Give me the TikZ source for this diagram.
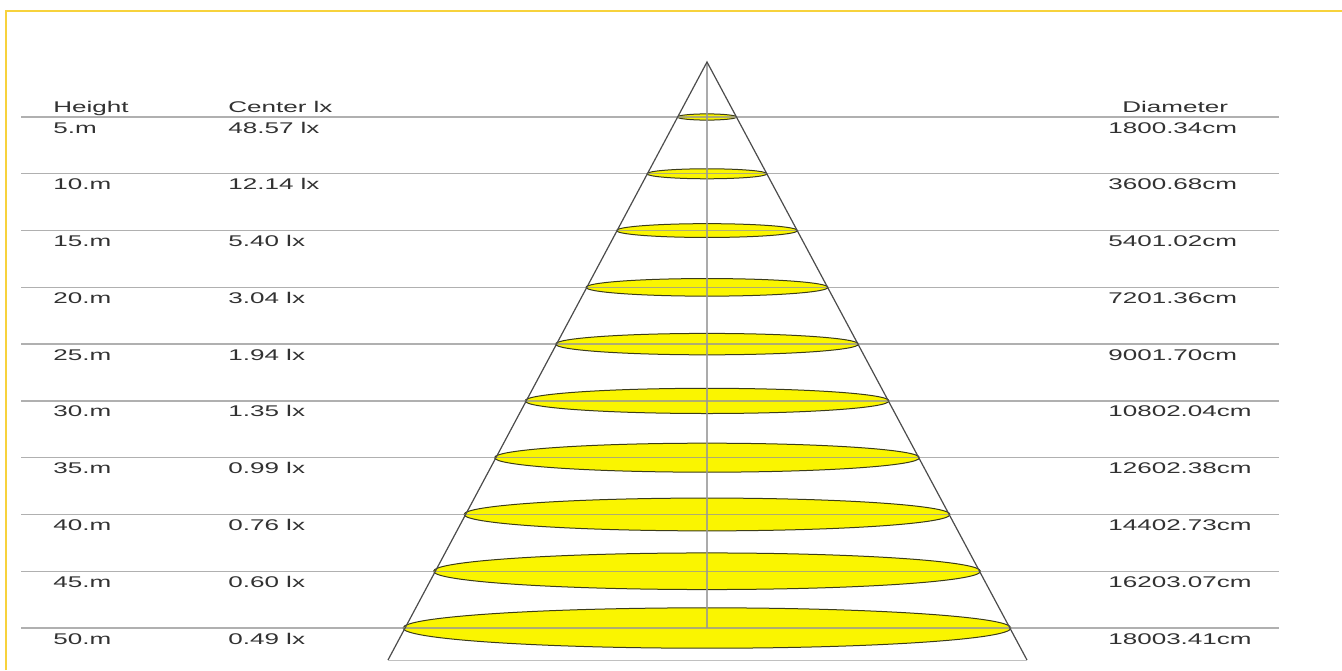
\documentclass[tikz,border=0pt]{standalone}
\usepackage{fontspec}
\setmainfont{Liberation Sans}
\definecolor{framegold}{RGB}{247,210,60}
\definecolor{rulegray}{RGB}{150,150,150}
\definecolor{txt}{RGB}{50,50,50}
\definecolor{lampyellow}{RGB}{250,245,0}
\definecolor{ellline}{RGB}{60,60,25}
\tikzset{
  lbl/.style={anchor=base west, inner sep=0pt, text=txt, font=\fontsize{15.5}{18}\selectfont, xscale=1.68},
  rowline/.style={draw=rulegray, line width=1.3pt, opacity=0.75},
  side/.style={draw=black!70, line width=1.2pt},
  axisline/.style={draw=rulegray, line width=1.3pt, opacity=0.8},
  beam/.style={fill=lampyellow, draw=ellline, line width=1pt},
  frame/.style={draw=framegold, line width=1.3pt}
}
\begin{document}
\begin{tikzpicture}[x=1pt,y=-1pt]
\useasboundingbox (0,0) rectangle (1342,670);
\fill[white] (0,0) rectangle (1342,670);
\draw[frame] (6,670) -- (6,11) -- (1342,11);
% geometry
\coordinate (apex) at (707,62);
\coordinate (bl) at (388,660);
\coordinate (br) at (1027,660);
\coordinate (axisend) at (707,628);
% beam ellipses
\foreach \k in {1,...,10}{
  \pgfmathsetmacro{\yy}{117+(\k-1)*56.78}
  \pgfmathsetmacro{\rx}{0.537*(\yy-62)}
  \pgfmathsetmacro{\ry}{1.2+1.9*\k}
  \draw[beam] (707,\yy) ellipse [x radius=\rx, y radius=\ry];
}
% row lines
\foreach \k in {1,...,10}{
  \pgfmathsetmacro{\yy}{117+(\k-1)*56.78}
  \coordinate (L\k) at (21,\yy);
  \coordinate (R\k) at (1279,\yy);
  \draw[rowline] (L\k) -- (R\k);
}
% cone
\draw[axisline] (apex) -- (axisend);
\draw[side] (bl) -- (apex) -- (br);
\draw[draw=rulegray!60, line width=1pt] (bl) -- (br);
% headers
\node[lbl] (hh) at (53,112) {Height};
\node[lbl] (hc) at (228,112) {Center lx};
\node[lbl] (hd) at (1122,112) {Diameter};
% rows
\foreach \k/\c/\d in {1/48.57 lx/1800.34cm, 2/12.14 lx/3600.68cm, 3/5.40 lx/5401.02cm,
  4/3.04 lx/7201.36cm, 5/1.94 lx/9001.70cm, 6/1.35 lx/10802.04cm, 7/0.99 lx/12602.38cm,
  8/0.76 lx/14402.73cm, 9/0.60 lx/16203.07cm, 10/0.49 lx/18003.41cm}{
  \pgfmathsetmacro{\yy}{117+(\k-1)*56.78+16}
  \pgfmathtruncatemacro{\hm}{5*\k}
  \node[lbl] (h\k) at (53,\yy) {\hm.m};
  \node[lbl] (c\k) at (228,\yy) {\c};
  \node[lbl] (d\k) at (1108,\yy) {\d};
}
\end{tikzpicture}
\end{document}
